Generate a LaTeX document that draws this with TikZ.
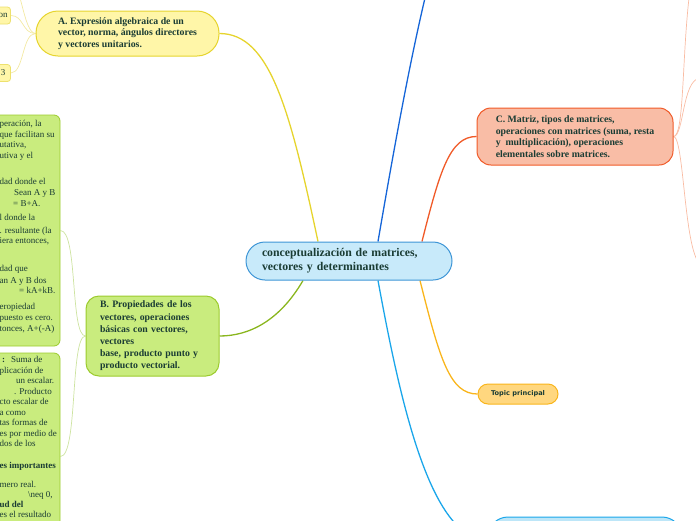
\documentclass[tikz,border=0pt]{standalone}
\usepackage{fontspec}
\setmainfont{Liberation Serif}
\newfontfamily\topicfont{DejaVu Sans}
\usetikzlibrary{positioning, calc, backgrounds}
\definecolor{mmtext}{HTML}{1A3C34}
\definecolor{mmcenter}{HTML}{C8EAFA}
\definecolor{mmcenterline}{HTML}{3D95D6}
\definecolor{mmyellow}{HTML}{E6D42E}
\definecolor{mmyellowfill}{HTML}{FFF6A8}
\definecolor{mmyellowpale}{HTML}{F3E9A2}
\definecolor{mmgreen}{HTML}{8AB61E}
\definecolor{mmgreenfill}{HTML}{C9EC7E}
\definecolor{mmgreenline}{HTML}{9CCB2E}
\definecolor{mmgreenpale}{HTML}{CDE3A0}
\definecolor{mmred}{HTML}{F05A28}
\definecolor{mmredfill}{HTML}{F9BDA6}
\definecolor{mmredpale}{HTML}{F9BCA3}
\definecolor{mmblue}{HTML}{1565D8}
\definecolor{mmsky}{HTML}{1AA6EA}
\definecolor{mmskyfill}{HTML}{BDE6F8}
\definecolor{mmorange}{HTML}{F9B51C}
\definecolor{mmorangefill}{HTML}{FFD77F}

\begin{document}
\begin{tikzpicture}[x=1pt, y=-1pt,
  every node/.style={text=mmtext},
  topic/.style={draw, line width=1pt, align=left, inner ysep=0pt, font=\bfseries\fontsize{9.8}{11.6}\selectfont},
  leaf/.style={draw, line width=0.8pt, inner sep=0pt},
  frag/.style={anchor=base west, inner sep=0pt, font=\fontsize{9}{11}\selectfont},
  branch/.style={line width=1.3pt},
  twig/.style={line width=0.7pt},
]
\useasboundingbox (0,0) rectangle (696,520);
\clip (0,0) rectangle (696,520);

% Central topic
\node[topic, fill=mmcenter, draw=mmcenterline, rounded corners=19pt, inner xsep=16pt, text width=174pt, minimum height=38pt, font=\bfseries\fontsize{11.8}{14}\selectfont] (main) at (349,261) {conceptualización de matrices,\\vectores y determinantes};

% Main topics
\node[topic, fill=mmyellowfill, draw=mmyellow, rounded corners=22pt, minimum width=183pt, minimum height=45pt] (topA) at (127.5,33.5) {A. Expresión algebraica de un\\vector, norma, ángulos directores\\y vectores unitarios.};
\node[topic, fill=mmgreenfill, draw=mmgreenline, rounded corners=13pt, inner xsep=14pt, text width=105pt, minimum height=80pt, font=\bfseries\fontsize{9.8}{12.2}\selectfont] (topB) at (152.5,336) {B. Propiedades de los\\vectores, operaciones\\básicas con vectores,\\vectores\\base, producto punto y\\producto vectorial.};
\node[topic, fill=mmredfill, draw=mmred, rounded corners=14pt, minimum width=196pt, minimum height=57pt] (topC) at (575,136.5) {C. Matriz, tipos de matrices,\\operaciones con matrices (suma, resta\\y\ \ multiplicación), operaciones\\elementales sobre matrices.};
\node[draw=mmorange, fill=mmorangefill, line width=1pt, rounded corners=10pt, minimum width=80pt, minimum height=20pt, inner sep=0pt, font=\topicfont\bfseries\fontsize{6.6}{8}\selectfont] (topD) at (518,394) {Topic principal};
\node[draw=mmsky, fill=mmskyfill, line width=1pt, rounded corners=20pt, minimum width=194pt, minimum height=46pt] (topE) at (585,540) {};

% Subtopics of A
\node[leaf, fill=mmyellowfill, draw=mmyellow!70, rounded corners=3pt, minimum width=40pt, minimum height=17pt, align=right, text width=34pt, font=\fontsize{9}{11}\selectfont] (leafA1) at (-9.5,15.5) {on};
\node[leaf, fill=mmyellowfill, draw=mmyellow!70, rounded corners=3pt, minimum width=40pt, minimum height=17pt, align=right, text width=30pt, font=\fontsize{9}{11}\selectfont] (leafA2) at (-9.5,73) {3};
\coordinate (cA0) at (20,-2);

% Subtopics of B
\node[leaf, fill=mmgreenfill, draw=mmgreenline, rounded corners=6pt, minimum width=200pt, minimum height=231pt] (leafB1) at (-40,230.5) {};
\node[leaf, fill=mmgreenfill, draw=mmgreenline, rounded corners=6pt, minimum width=200pt, minimum height=207pt] (leafB2) at (-40,456.5) {};
\foreach \fx/\fy/\ftext in {-0.5/126.5/{peración, la}, -0.5/137/{que facilitan su}, -0.5/147.5/{utativa,}, -0.5/158/{utiva y el},
  -0.5/184.5/{dad donde el}, 14/195/{Sean A y B}, 13/206/{= B+A.},
  -0.5/220/{l donde la}, -0.5/233/{. resultante (la}, -0.5/243.5/{iera entonces,},
  -0.5/271.5/{dad que}, -0.5/283/{an A y B dos}, 19/293.5/{= kA+kB.},
  -0.5/309.5/{eropiedad}, -0.5/320.5/{puesto es cero.}, -0.5/331/{tonces, A+(-A)}}
  \node[frag] at (\fx,\fy) {\ftext};
\foreach \fx/\fy/\ftext in {2/362.5/{\textbf{:}\hspace{6pt}Suma de}, -0.5/373/{plicación de}, 16/383.5/{un escalar.}, 14/394/{. Producto},
  -0.5/404.5/{cto escalar de}, -0.5/415/{a como}, -0.5/425.5/{tas formas de}, -0.5/436/{es por medio de}, -0.5/446.5/{dos de los},
  -0.5/468/{\textbf{es importantes}}, -0.5/487.5/{mero real.}, 28/497.5/{\textbackslash neq 0,}, -0.5/507.5/{\textbf{ud del}}, -0.5/517/{es el resultado}}
  \node[frag] at (\fx,\fy) {\ftext};

% Subtopics of C
\coordinate (cC1) at (689,-2);
\coordinate (cC2) at (700,78);
\coordinate (cC3) at (700,264);
\coordinate (cTop) at (425,-2);

% Connectors
\begin{scope}[on background layer]
\draw[branch, mmyellow] ([xshift=-31pt]main.north) .. controls (290,110) and (270,33.5) .. (topA.east);
\draw[branch, mmgreen] ([xshift=-46pt]main.south) .. controls (280,320) and (250,336) .. (topB.east);
\draw[branch, mmred] ([xshift=73pt]main.north) .. controls (440,170) and (450,136.5) .. (topC.west);
\draw[branch, mmblue] ([xshift=29pt]main.north) .. controls (392,160) and (408,70) .. (cTop);
\draw[branch, mmsky] ([xshift=29pt]main.south) .. controls (400,400) and (430,540) .. (topE.west);
\draw[branch, mmorange] ([xshift=71pt]main.south) .. controls (440,360) and (450,394) .. (topD.west);
\draw[twig, mmyellowpale] (topA.west) .. controls (28,33.5) and (24,12) .. (cA0);
\draw[twig, mmyellowpale] (topA.west) .. controls (22,33.5) and (24,15.5) .. (leafA1.east);
\draw[twig, mmyellowpale] (topA.west) .. controls (22,33.5) and (24,73) .. (leafA2.east);
\draw[twig, mmgreenpale] (topB.west) .. controls (70,336) and (78,230.5) .. (leafB1.east);
\draw[twig, mmgreenpale] (topB.west) .. controls (70,336) and (78,456.5) .. (leafB2.east);
\draw[twig, mmredpale] (topC.east) .. controls (684,136.5) and (682,60) .. (cC1);
\draw[twig, mmredpale] (topC.east) .. controls (684,136.5) and (682,80) .. (cC2);
\draw[twig, mmredpale] (topC.east) .. controls (684,136.5) and (684,250) .. (cC3);
\end{scope}

\end{tikzpicture}
\end{document}
